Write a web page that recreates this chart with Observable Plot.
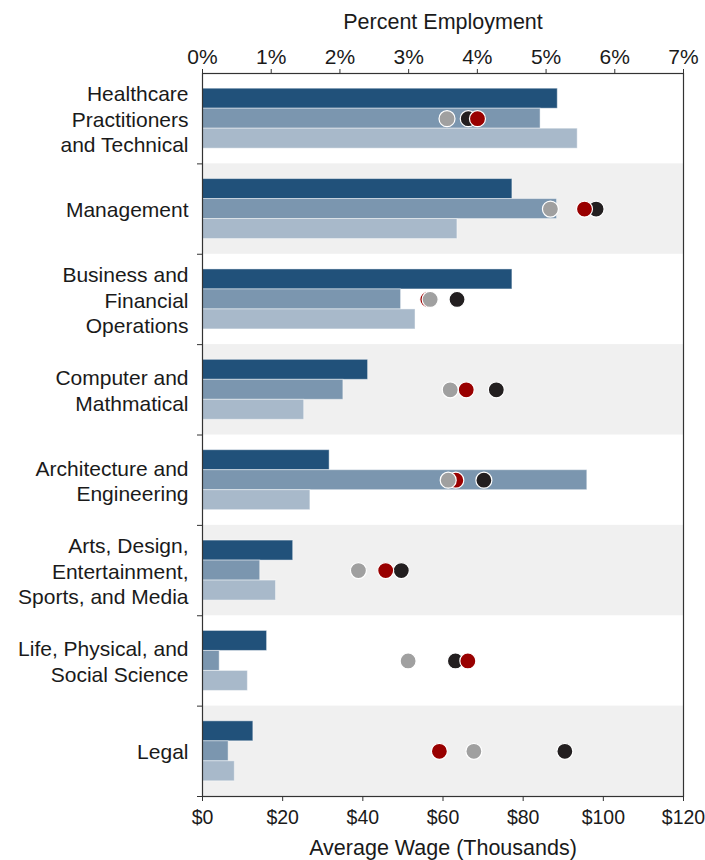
<!DOCTYPE html>
<html>
<head>
<meta charset="utf-8">
<script src="https://cdn.jsdelivr.net/npm/d3@7"></script>
<script src="https://cdn.jsdelivr.net/npm/@observablehq/plot@0.6"></script>
<style>
  html, body { margin: 0; padding: 0; background: #fff; }
  #chart svg { display: block; }
</style>
</head>
<body>
<div id="chart"></div>
<script>
// ---- Data ----
const categories = [
  "Healthcare\nPractitioners\nand Technical",
  "Management",
  "Business and\nFinancial\nOperations",
  "Computer and\nMathmatical",
  "Architecture and\nEngineering",
  "Arts, Design,\nEntertainment,\nSports, and Media",
  "Life, Physical, and\nSocial Science",
  "Legal"
];
// Percent employment (three series of bars)
const pctDark  = [5.17, 4.51, 4.51, 2.41, 1.85, 1.32, 0.94, 0.74];
const pctMid   = [4.92, 5.16, 2.89, 2.05, 5.60, 0.84, 0.25, 0.38];
const pctLight = [5.46, 3.71, 3.10, 1.48, 1.57, 1.07, 0.66, 0.47];
// Average wage, thousands of dollars (three series of dots)
const wageBlack = [66.3, 98.2, 63.5, 73.3, 70.2, 49.6, 63.1, 90.4];
const wageRed   = [68.6, 95.3, 56.2, 65.8, 63.2, 45.7, 66.2, 59.1];
const wageGray  = [61.0, 86.8, 56.8, 61.8, 61.3, 38.9, 51.3, 67.7];
const pctTicks  = [0, 1, 2, 3, 4, 5, 6, 7];
const wageTicks = [0, 20, 40, 60, 80, 100, 120];

// ---- Build tables ----
const PCT_MAX = 7, WAGE_MAX = 120;
const w2p = w => w * PCT_MAX / WAGE_MAX; // wage -> shared x scale
const barSeries = [
  {values: pctDark,  fill: "#21517a", slot: 0},
  {values: pctMid,   fill: "#7b96af", slot: 1},
  {values: pctLight, fill: "#a8b9ca", slot: 2}
];
const bars = barSeries.flatMap(s => s.values.map((v, i) => ({i, v, slot: s.slot, fill: s.fill})));
const dotSeries = [
  {values: wageBlack, fill: "#231f20"},
  {values: wageRed,   fill: "#990000"},
  {values: wageGray,  fill: "#a0a0a0"}
];
const dots = dotSeries.flatMap(s => s.values.map((v, i) => ({i, v, fill: s.fill})));
const idx = categories.map((c, i) => i);

const BAR = 20 / 90.4;   // bar thickness in band units
const font = "'Liberation Sans', Arial, Helvetica, sans-serif";

const chart = Plot.plot({
  width: 705,
  height: 860,
  marginTop: 73,
  marginBottom: 64,
  marginLeft: 202,
  marginRight: 22,
  style: {fontFamily: font, fontSize: "21px", color: "#1a1a1a", background: "#fff"},
  x: {domain: [0, PCT_MAX]},
  y: {domain: [0, categories.length], range: [73, 796]},
  marks: [
    // alternating band shading
    Plot.rect(idx.filter(i => i % 2 === 1), {
      x1: 0, x2: PCT_MAX, y1: i => i, y2: i => i + 1, fill: "#f0f0f0"
    }),
    // bars
    Plot.rectX(bars, {
      x1: 0, x2: "v",
      y1: d => d.i + 0.5 + (d.slot - 1.5) * BAR,
      y2: d => d.i + 0.5 + (d.slot - 0.5) * BAR,
      fill: "fill", stroke: "#ffffff", strokeOpacity: 0.45, strokeWidth: 1
    }),
    // wage dots
    Plot.dot(dots, {
      x: d => w2p(d.v), y: d => d.i + 0.5,
      r: 8, fill: "fill", stroke: "#ffffff", strokeWidth: 1.2
    }),
    // frame
    Plot.frame({stroke: "#333", strokeWidth: 1.2}),
    // top axis: percent
    Plot.axisX(pctTicks, {
      anchor: "top", tickSize: 5, tickPadding: 5, label: null,
      tickFormat: d => d + "%", fontSize: 21, stroke: "#333"
    }),
    // bottom axis: wage
    Plot.axisX(wageTicks.map(w2p), {
      anchor: "bottom", tickSize: 5, tickPadding: 9, label: null,
      tickFormat: v => "$" + Math.round(v * WAGE_MAX / PCT_MAX), fontSize: 19.5, stroke: "#333"
    }),
    // left ticks at band boundaries
    Plot.axisY(d3.range(1, categories.length + 1), {
      anchor: "left", tickSize: 5, tickFormat: () => "", label: null, stroke: "#333"
    }),
    // category labels
    Plot.text(idx, {
      frameAnchor: "left", y: i => i + 0.5, text: i => categories[i],
      textAnchor: "end", lineAnchor: "middle", dx: -14, lineHeight: 1.21, fontSize: 21, fill: "#1a1a1a"
    }),
    // axis titles
    Plot.text(["Percent Employment"], {
      frameAnchor: "top", lineAnchor: "middle", dy: -51, fontSize: 21.5, fill: "#1a1a1a"
    }),
    Plot.text(["Average Wage (Thousands)"], {
      frameAnchor: "bottom", lineAnchor: "middle", dy: 52, fontSize: 21.5, fill: "#1a1a1a"
    })
  ]
});
document.getElementById("chart").appendChild(chart);
</script>
</body>
</html>
